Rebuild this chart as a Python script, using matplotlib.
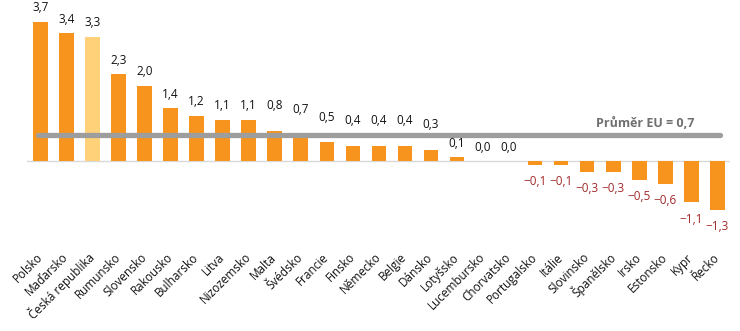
import matplotlib.pyplot as plt
import numpy as np

plt.rcParams['font.family'] = ['Open Sans', 'DejaVu Sans']

countries = ['Polsko', 'Maďarsko', 'Česká republika', 'Rumunsko', 'Slovensko', 'Rakousko',
             'Bulharsko', 'Litva', 'Nizozemsko', 'Malta', 'Švédsko', 'Francie', 'Finsko',
             'Německo', 'Belgie', 'Dánsko', 'Lotyšsko', 'Lucembursko', 'Chorvatsko',
             'Portugalsko', 'Itálie', 'Slovinsko', 'Španělsko', 'Irsko', 'Estonsko',
             'Kypr', 'Řecko']
values = [3.7, 3.4, 3.3, 2.3, 2.0, 1.4, 1.2, 1.1, 1.1, 0.8, 0.7, 0.5, 0.4, 0.4, 0.4,
          0.3, 0.1, 0.0, 0.0, -0.1, -0.1, -0.3, -0.3, -0.5, -0.6, -1.1, -1.3]
eu_avg = 0.7
highlight = 'Česká republika'

orange = '#f7941d'
light = '#ffd27a'
colors = [light if c == highlight else orange for c in countries]
x = np.arange(len(countries))

fig = plt.figure(figsize=(7.4, 3.31), dpi=100)
ax = fig.add_axes([0.037, 0.275, 0.95, 0.725])

ax.bar(x, values, width=0.56, color=colors, zorder=2)
ax.axhline(0, color='#d9d9d9', lw=1, zorder=1)

# EU average line drawn over the bars
ax.plot([-0.1, len(x) - 1 + 0.1], [eu_avg, eu_avg], color='#9d9d9d', lw=3.8,
        solid_capstyle='round', zorder=3)
ax.text(len(x) - 1.9, eu_avg + 0.3, 'Průměr EU = 0,7', ha='right', va='center',
        fontsize=9, fontweight='bold', color='#707070')

# value labels
for xi, v in zip(x, values):
    txt = f'{v:.1f}'.replace('.', ',').replace('-', '\u2212')
    if v < 0:
        ax.annotate(txt, (xi, v), xytext=(0, -12), textcoords='offset points',
                    ha='center', va='center', fontsize=8.5, color='#a32a2a')
    else:
        off = 18 if 0.2 < v < 1.0 else 10
        ax.annotate(txt, (xi, v), xytext=(0, off), textcoords='offset points',
                    ha='center', va='center', fontsize=8.5, color='#111111')

ax.set_xlim(-0.5, len(x) - 0.5)
ax.set_ylim(-2.10, 4.28)
ax.set_xticks(x, countries, rotation=45, ha='right', va='center',
              rotation_mode='anchor', fontsize=8.5, color='#111111')
ax.tick_params(axis='x', length=0, pad=11)
ax.set_yticks([])
for s in ax.spines.values():
    s.set_visible(False)

fig.savefig('out.png', dpi=100)
